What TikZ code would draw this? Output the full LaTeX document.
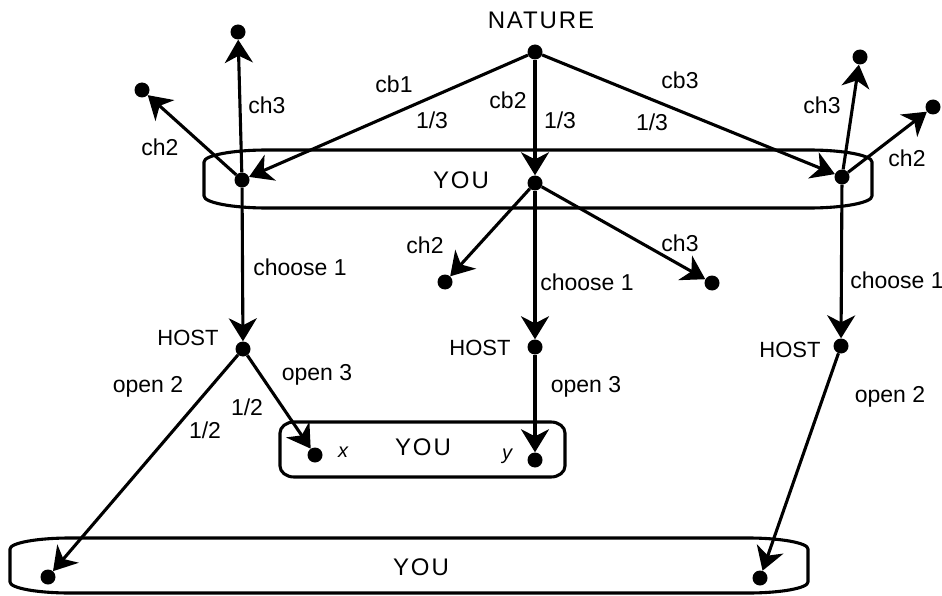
\documentclass[tikz,border=0pt]{standalone}
\usepackage{fontspec}
\setmainfont{Liberation Sans}
\newfontfamily\spaced[LetterSpace=8]{Liberation Sans}
\usetikzlibrary{arrows.meta}
\newcommand\infobox[6]{% x1,y1,x2,y2,rx,ry
  \draw[boxline] ({#1+#5},#2) -- ({#3-#5},#2)
    arc[start angle=90,end angle=0,x radius=#5pt,y radius=#6pt] -- (#3,{#4-#6})
    arc[start angle=0,end angle=-90,x radius=#5pt,y radius=#6pt] -- ({#1+#5},#4)
    arc[start angle=270,end angle=180,x radius=#5pt,y radius=#6pt] -- (#1,{#2+#6})
    arc[start angle=180,end angle=90,x radius=#5pt,y radius=#6pt] -- cycle;}
\begin{document}
\begin{tikzpicture}[x=1pt,y=-1pt,
  dot/.style={circle,fill=black,inner sep=0pt,minimum size=15pt},
  arr/.style={line width=3.1pt,-{Stealth[length=23pt,width=28pt,inset=7pt]}},
  boxline/.style={line width=3.1pt,line join=round},
  lbl/.style={font=\fontsize{23}{26}\selectfont,inner sep=0pt},
  host/.style={font=\fontsize{22}{26}\selectfont,inner sep=0pt},
  big/.style={font=\fontsize{24}{28}\selectfont\spaced,inner sep=0pt},
  var/.style={font=\fontsize{20}{24}\selectfont\itshape,inner sep=0pt}]
\useasboundingbox (0,0) rectangle (942,596);
% information sets
\infobox{204}{150}{872}{208}{63}{12}
\infobox{280}{422}{565}{477}{14}{11}
\infobox{10}{538}{808}{593}{60}{11}
% dots
\node[dot] (N) at (535,52) {};
\node[dot] (Y1) at (242,180) {};
\node[dot] (Y2) at (535,183) {};
\node[dot] (Y3) at (842,177) {};
\node[dot] (A3) at (238,32) {};
\node[dot] (A2) at (142,90) {};
\node[dot] (B2) at (445,282) {};
\node[dot] (B3) at (712,283) {};
\node[dot] (C3) at (860,57) {};
\node[dot] (C2) at (933,107) {};
\node[dot] (H1) at (243,349) {};
\node[dot] (H2) at (535,347) {};
\node[dot] (H3) at (841,346) {};
\node[dot] (X) at (315,455) {};
\node[dot] (Y) at (535,460) {};
\node[dot] (L1) at (48,577) {};
\node[dot] (L2) at (760,578) {};
% arrows
\draw[arr] (N) -- (Y1);
\draw[arr] (N) -- (Y2);
\draw[arr] (N) -- (Y3);
\draw[arr] (Y1) -- (A3);
\draw[arr] (Y1) -- (A2);
\draw[arr] (Y2) -- (B2);
\draw[arr] (Y2) -- (B3);
\draw[arr] (Y3) -- (C3);
\draw[arr] (Y3) -- (C2);
\draw[arr] (Y1) -- (H1);
\draw[arr] (Y2) -- (H2);
\draw[arr] (Y3) -- (H3);
\draw[arr] (H1) -- (X);
\draw[arr] (H1) -- (L1);
\draw[arr] (H2) -- (Y);
\draw[arr] (H3) -- (L2);
% labels
\node[big] (tN) at (541,20) {NATURE};
\node[lbl] (tcb1) at (394,84) {cb1};
\node[lbl] (tp1) at (432,120) {1/3};
\node[lbl] (tcb2) at (508,100) {cb2};
\node[lbl] (tp2) at (560,120) {1/3};
\node[lbl] (tcb3) at (680,80) {cb3};
\node[lbl] (tp3) at (652,122) {1/3};
\node[big] (tyou1) at (461,180) {YOU};
\node[lbl] (ta3) at (267,105) {ch3};
\node[lbl] (ta2) at (160,147) {ch2};
\node[lbl] (tc3) at (822,105) {ch3};
\node[lbl] (tc2) at (907,158) {ch2};
\node[lbl] (tb2) at (425,245) {ch2};
\node[lbl] (tb3) at (680,243) {ch3};
\node[lbl] (tch1) at (300,267) {choose 1};
\node[lbl] (tch2) at (587,282) {choose 1};
\node[lbl] (tch3) at (897,280) {choose 1};
\node[host] (th1) at (188,338) {HOST};
\node[host] (th2) at (480,348) {HOST};
\node[host] (th3) at (790,350) {HOST};
\node[lbl] (to2a) at (148,387) {open 2};
\node[lbl] (to3a) at (317,375) {open 3};
\node[lbl] (th2a) at (247,407) {1/2};
\node[lbl] (th2b) at (205,430) {1/2};
\node[lbl] (to3b) at (586,387) {open 3};
\node[lbl] (to2b) at (890,397) {open 2};
\node[var] (tx) at (343,452) {x};
\node[var] (ty) at (507,456) {y};
\node[big] (tyou2) at (423,447) {YOU};
\node[big] (tyou3) at (421,567) {YOU};
\end{tikzpicture}
\end{document}
